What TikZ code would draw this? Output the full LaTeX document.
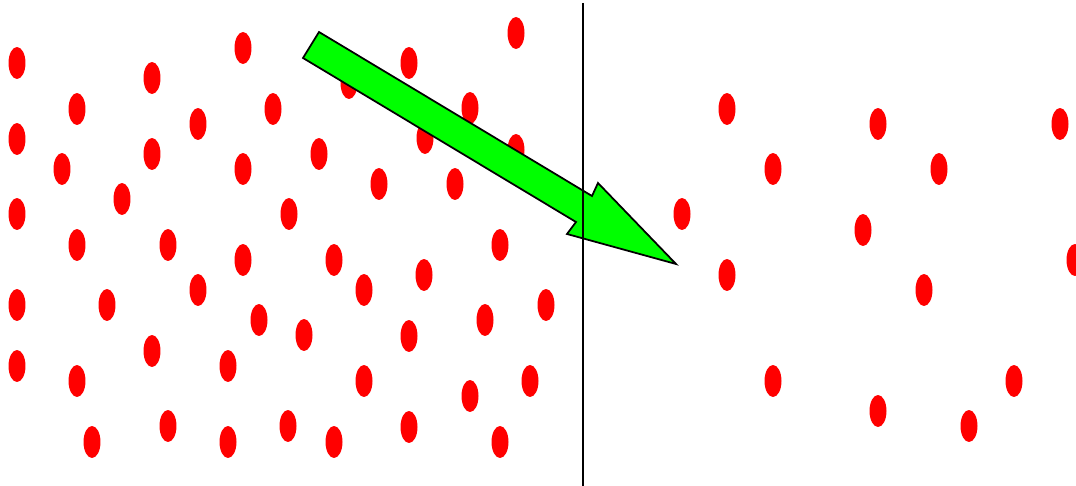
\documentclass[tikz,border=0pt]{standalone}
\usetikzlibrary{shapes.geometric}

\begin{document}
\begin{tikzpicture}[x=0.02cm, y=-0.02cm,
  dot/.style={ellipse, fill=red, inner sep=0pt, minimum width=0.34cm, minimum height=0.64cm}]
  \clip (0,0) rectangle (1076,486);
  % particles, left chamber
  \foreach \px/\py [count=\i] in {17/63, 243/48, 152/78, 77/109, 273/109, 198/124, 17/139, 152/154,
      62/169, 243/169, 122/199, 17/214, 289/214, 77/245, 168/245, 243/260, 198/290, 17/305,
      107/305, 259/320, 304/335, 152/351, 17/366, 228/366, 77/381, 168/426, 288/426, 92/442,
      228/442, 500/245, 334/260, 364/290, 424/275, 409/336, 485/320, 546/305, 364/381,
      470/396, 530/381, 334/442, 409/427, 500/442, 516/33, 409/63, 349/83, 470/108, 425/138,
      516/150, 319/154, 379/184, 455/184}
    \node[dot] (left\i) at (\px,\py) {};
  % particles, right chamber
  \foreach \px/\py [count=\i] in {727/109, 878/124, 1060/124, 773/169, 939/169, 682/214, 863/230,
      1075/260, 727/275, 924/290, 773/381, 1014/381, 878/411, 969/426}
    \node[dot] (right\i) at (\px,\py) {};
  % arrow
  \draw[fill=green, line width=1pt, line join=miter]
    (319,32) -- (592,196) -- (598,183) -- (676,264) -- (567,234) -- (576,222) -- (303,58) -- cycle;
  % wall
  \coordinate (walltop) at (583,3);
  \coordinate (wallbot) at (583,486);
  \draw[line width=1pt] (walltop) -- (wallbot);
\end{tikzpicture}
\end{document}
